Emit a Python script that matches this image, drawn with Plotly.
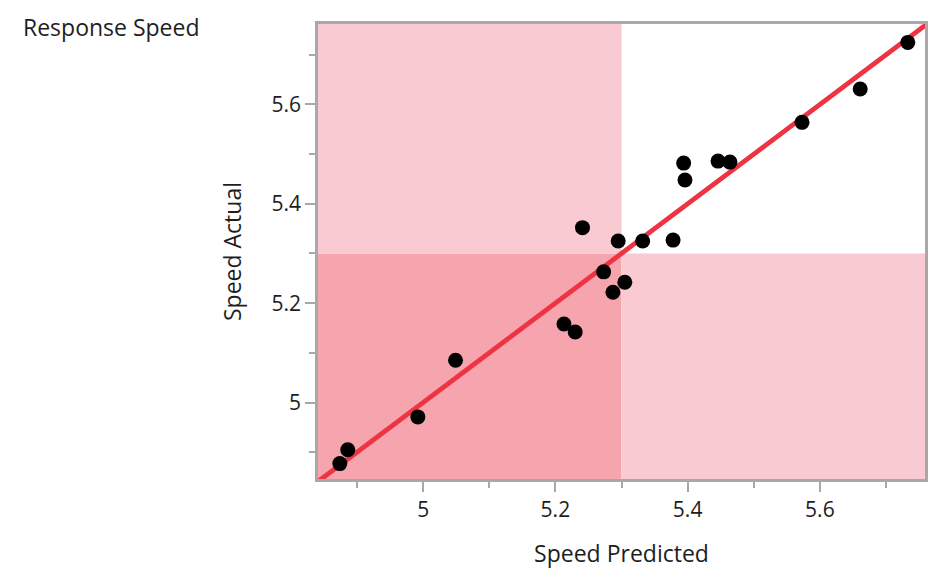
import plotly.graph_objects as go

predicted = [4.874, 4.886, 4.992, 5.049, 5.213, 5.230, 5.241, 5.273, 5.287, 5.295,
             5.305, 5.332, 5.378, 5.394, 5.396, 5.446, 5.464, 5.573, 5.661, 5.733]
actual = [4.877, 4.905, 4.971, 5.085, 5.158, 5.142, 5.352, 5.263, 5.222, 5.325,
          5.242, 5.325, 5.327, 5.482, 5.448, 5.486, 5.484, 5.564, 5.631, 5.725]
threshold = 5.3
x_range = [4.841, 5.759]
y_range = [4.846, 5.762]
tick_vals = [5.0, 5.2, 5.4, 5.6]
tick_text = ["5", "5.2", "5.4", "5.6"]

light = "#F9CAD2"
dark = "#F6A5AE"
red = "#EE3443"
gray = "#A8A8A8"
font = "Open Sans, Noto Sans, sans-serif"
txt = "#1e1e1e"

fig = go.Figure()

lo = min(x_range[0], y_range[0])
hi = max(x_range[1], y_range[1])
fig.add_trace(go.Scatter(x=[lo, hi], y=[lo, hi], mode="lines",
                         line=dict(color=red, width=4.8), hoverinfo="skip", showlegend=False))
fig.add_trace(go.Scatter(x=predicted, y=actual, mode="markers",
                         marker=dict(color="black", size=15), showlegend=False))

shapes = [
    dict(type="rect", xref="x", yref="y", x0=x_range[0], x1=threshold, y0=y_range[0], y1=threshold,
         fillcolor=dark, line=dict(width=0), layer="below"),
    dict(type="rect", xref="x", yref="y", x0=x_range[0], x1=threshold, y0=threshold, y1=y_range[1],
         fillcolor=light, line=dict(width=0), layer="below"),
    dict(type="rect", xref="x", yref="y", x0=threshold, x1=x_range[1], y0=y_range[0], y1=threshold,
         fillcolor=light, line=dict(width=0), layer="below"),
]

axis_common = dict(
    showgrid=False, zeroline=False, showline=True, linecolor=gray, linewidth=2.5, mirror=True,
    ticks="outside", ticklen=10, tickwidth=2, tickcolor=gray,
    tickfont=dict(family=font, size=21, color=txt),
    minor=dict(ticks="outside", dtick=0.1, ticklen=6, tickwidth=2, tickcolor=gray),
    tickvals=tick_vals, ticktext=tick_text,
)

fig.update_layout(
    width=941, height=585,
    margin=dict(l=318, r=16, t=24, b=106),
    plot_bgcolor="white", paper_bgcolor="white",
    shapes=shapes,
    xaxis=dict(range=x_range, title=dict(text="Speed Predicted", font=dict(family=font, size=23, color=txt), standoff=24), **axis_common),
    yaxis=dict(range=y_range, title=dict(text="Speed Actual", font=dict(family=font, size=23, color=txt), standoff=24), **axis_common),
    annotations=[dict(text="Response Speed", xref="paper", yref="paper", x=-0.4893, y=1.0,
                      xanchor="left", yanchor="middle", showarrow=False,
                      font=dict(family=font, size=23, color=txt), yshift=-3)],
)

fig.write_html("out.html", config={"displayModeBar": False},
               post_script="document.body.style.margin='0';")
